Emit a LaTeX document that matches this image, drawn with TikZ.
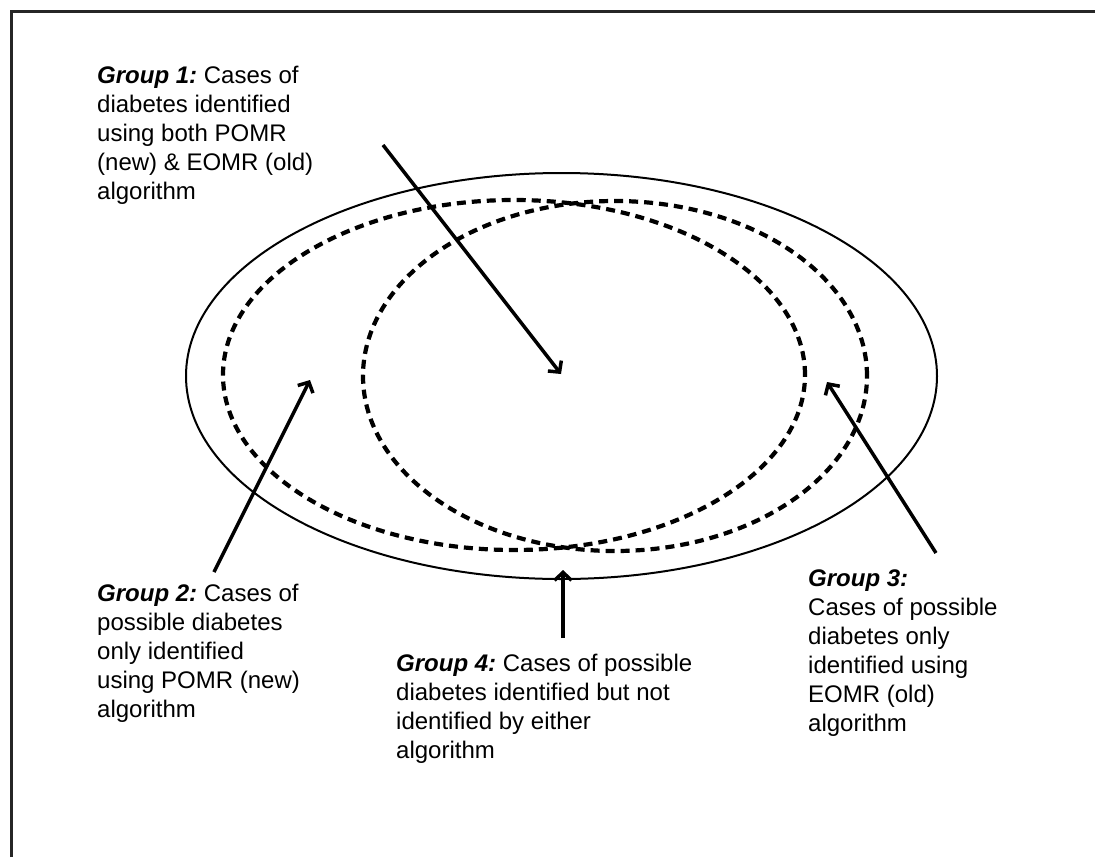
\documentclass[tikz,border=0pt]{standalone}
\usepackage{fontspec}
\setmainfont{Liberation Sans}
\usetikzlibrary{arrows.meta,calc}

\begin{document}
\begin{tikzpicture}[x=1pt,y=-1pt,
    grp/.style={anchor=north west,align=left,inner sep=0pt,font=\fontsize{24}{29}\selectfont},
    dashring/.style={line width=4.2pt,dash pattern=on 9pt off 6pt},
    pointer/.style={line width=3.5pt,-{Straight Barb[length=8pt,width=17pt]}}]
    \definecolor{framegray}{HTML}{262626}
    \useasboundingbox (0,0) rectangle (1095,857);
    % frame, open at the bottom and on the right
    \draw[framegray,line width=3pt] (11.5,857) -- (11.5,11.5) -- (1095,11.5);
    % all cases, and the two algorithms
    \draw[line width=2pt] (561.5,376) ellipse [x radius=375.5pt,y radius=203pt];
    \draw[dashring] (514,375) ellipse [x radius=291pt,y radius=175pt];
    \draw[dashring] (615,376) ellipse [x radius=252pt,y radius=175pt];
    % groups
    \node[grp] (g1) at (97,66) {\textbf{\textit{Group 1:}}\ Cases of\\diabetes identified\\using both POMR\\(new) \& EOMR (old)\\algorithm};
    \node[grp] (g2) at (97,584) {\textbf{\textit{Group 2:}}\ Cases of\\possible diabetes\\only identified\\using POMR (new)\\algorithm};
    \node[grp] (g3) at (808,570) {\textbf{\textit{Group 3:}}\\Cases of possible\\diabetes only\\identified using\\EOMR (old)\\algorithm};
    \node[grp] (g4) at (396,654) {\textbf{\textit{Group 4:}}\ Cases of possible\\diabetes identified but not\\identified by either\\algorithm};
    % pointers
    \path (383,145) coordinate (t1) (561,374) coordinate (h1)
          (214,572) coordinate (t2) (310,380) coordinate (h2)
          (936,553) coordinate (t3) (827,382) coordinate (h3)
          (563,638) coordinate (t4) (563,570) coordinate (h4);
    \foreach \i in {1,...,4} \draw[pointer] (t\i) -- (h\i);
\end{tikzpicture}
\end{document}
